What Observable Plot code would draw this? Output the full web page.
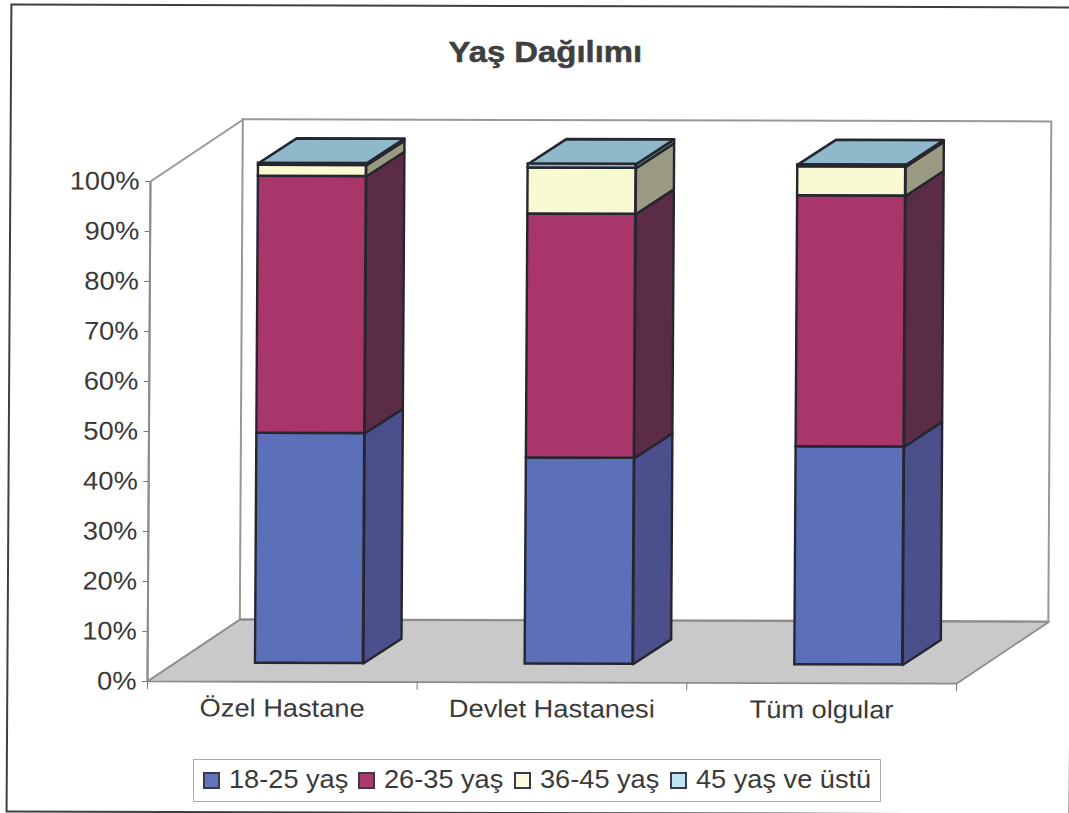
<!DOCTYPE html>
<html lang="tr">
<head>
<meta charset="utf-8">
<title>Yaş Dağılımı</title>
<script src="https://cdn.jsdelivr.net/npm/d3@7"></script>
<script src="https://cdn.jsdelivr.net/npm/@observablehq/plot@0.6"></script>
<style>
  html, body { margin: 0; padding: 0; background: #fff; }
  #page { position: relative; width: 1069px; height: 813px; overflow: hidden;
          font-family: "Liberation Sans", Arial, sans-serif; color: #3a3a3a; }
  #frame { position: absolute; left: 7.5px; top: 4.5px; width: 1060.5px; height: 804.5px;
           border: 2.4px solid #3f3f3f; pointer-events: none;
           transform: matrix(1, .0027, -.006, 1, 0, 0); transform-origin: 534px 402px; }
  #title { height: 90px; box-sizing: border-box; padding-top: 34px; padding-left: 21px; text-align: center;
           font-size: 30px; font-weight: bold; line-height: 36px; color: #3f3f3f; -webkit-text-stroke: .5px #3f3f3f; }
  #title span { display: inline-block; transform: scaleX(1.095); }
  #chart { height: 650px; }
  #chart svg { display: block; transform: matrix(1, .0027, -.006, 1, 0, 0); transform-origin: 534px 340px; }
  #legend { position: absolute; left: 193px; top: 759px; width: 688px; height: 43px; box-sizing: border-box;
            border: 1px solid #aaa; font-size: 26px; white-space: nowrap; }
  #legend i { display: inline-block; width: 13px; height: 13px; border: 2px solid #3a3a4a; margin: 2px 9px 0 0; }
  #legend span { display: inline-flex; align-items: center; position: absolute; top: 4px; }
  #legend b { font-weight: normal; display: inline-block; transform: scaleX(1.045); transform-origin: 0 50%; }
</style>
</head>
<body>
<div id="page">
  <div id="title"><span>Yaş Dağılımı</span></div>
  <div id="chart"></div>
  <div id="legend"></div>
  <div id="frame"></div>
</div>
<script>
// Hospital groups and age bands
const categories = ["Özel Hastane", "Devlet Hastanesi", "Tüm olgular"];
const ageBands = ["18-25 yaş", "26-35 yaş", "36-45 yaş", "45 yaş ve üstü"];

// Share of each age band per group, in percent
const age18to25 = [46.0, 41.2, 43.6];
const age26to35 = [51.4, 48.8, 50.2];
const age36to45 = [2.2, 9.2, 5.8];
const age45plus = [0.4, 0.8, 0.4];

// Fill shades: front face, side face, top face, legend swatch
const frontColors = ["#5b70b9", "#a9366a", "#fafad2", "#8fbccb"];
const sideColors = ["#4b4f8c", "#5a2c45", "#9a9a82", "#6f8f99"];
const topColor = "#8fb9ca";
const swatchColors = ["#6474bb", "#aa3c6c", "#fbfbdf", "#bfe3f1"];
const legendLefts = [9, 164, 320, 476];

// Oblique depth of the floor and of each bar, in axis units
const floorDepth = {x: 0.341, y: 12.4};
const barDepth = {x: 0.141, y: 5};
const barHalfWidth = 0.2;

const series = [age18to25, age26to35, age36to45, age45plus];

const segments = [];
categories.forEach((category, c) => {
  const left = c + 0.5 - barHalfWidth + (floorDepth.x - barDepth.x) / 2;
  const right = left + 2 * barHalfWidth;
  const lift = (floorDepth.y - barDepth.y) / 2;
  let base = lift;
  series.forEach((values, s) => {
    segments.push({c, s, left, right, y1: base, y2: base + values[c]});
    base += values[c];
  });
});

// Closed quadrilaterals for the side and top faces of the bars
const sidePolys = segments.flatMap((d) => {
  const id = `side-${d.c}-${d.s}`, fill = sideColors[d.s];
  return [
    {id, fill, x: d.right, y: d.y1},
    {id, fill, x: d.right + barDepth.x, y: d.y1 + barDepth.y},
    {id, fill, x: d.right + barDepth.x, y: d.y2 + barDepth.y},
    {id, fill, x: d.right, y: d.y2}
  ];
});
const topPolys = segments.filter((d) => d.s === series.length - 1).flatMap((d) => {
  const id = `top-${d.c}`;
  return [
    {id, x: d.left, y: d.y2},
    {id, x: d.right, y: d.y2},
    {id, x: d.right + barDepth.x, y: d.y2 + barDepth.y},
    {id, x: d.left + barDepth.x, y: d.y2 + barDepth.y}
  ];
});

// Floor and left wall of the chart box
const floor = [
  {x: 0, y: 0}, {x: 3, y: 0},
  {x: 3 + floorDepth.x, y: floorDepth.y}, {x: floorDepth.x, y: floorDepth.y}
];
const leftWall = [
  {x: 0, y: 0}, {x: floorDepth.x, y: floorDepth.y},
  {x: floorDepth.x, y: 100 + floorDepth.y}, {x: 0, y: 100}
];
const barStroke = "#26262f";
const wallStroke = "#989898";

const plot = Plot.plot({
  width: 1069,
  height: 650,
  marginLeft: 148.5,
  marginRight: 111.5,
  marginTop: 92,
  marginBottom: 58,
  x: {domain: [0, 3]},
  y: {domain: [0, 100]},
  style: {fontFamily: "'Liberation Sans', Arial, sans-serif", background: "transparent", overflow: "visible"},
  marks: [
    // Chart box
    Plot.rect([floorDepth], {x1: (d) => d.x, x2: (d) => 3 + d.x, y1: (d) => d.y, y2: (d) => 100 + d.y,
      fill: "white", stroke: wallStroke, strokeWidth: 2}),
    Plot.line(leftWall, {x: "x", y: "y", curve: "linear-closed", fill: "white", stroke: wallStroke, strokeWidth: 2}),
    Plot.line(floor, {x: "x", y: "y", curve: "linear-closed", fill: "#c9c9c9", stroke: "#8c8c8c", strokeWidth: 1.8}),

    // Axes
    Plot.axisY({ticks: d3.range(0, 101, 10), tickFormat: (d) => `${d}%`, tickSize: 5, tickPadding: 6,
      fontSize: 25.5, stroke: "#777", fill: "#3a3a3a", label: null}),
    Plot.axisX({ticks: [0, 1, 2, 3], tickFormat: () => "", tickSize: 8, stroke: "#777", label: null}),
    Plot.axisX({ticks: [0.5, 1.5, 2.5], tickFormat: (d) => categories[Math.floor(d)], tickSize: 0, tickPadding: 17,
      fontSize: 25, fill: "#3a3a3a", label: null}),
    Plot.ruleX([0], {stroke: "#8c8c8c", strokeWidth: 2}),

    // Bars
    Plot.line(sidePolys, {x: "x", y: "y", z: "id", fill: {value: "fill", scale: null}, curve: "linear-closed",
      stroke: barStroke, strokeWidth: 2.4, strokeLinejoin: "round"}),
    Plot.line(topPolys, {x: "x", y: "y", z: "id", fill: topColor, curve: "linear-closed",
      stroke: barStroke, strokeWidth: 2.6, strokeLinejoin: "round"}),
    Plot.rect(segments, {x1: "left", x2: "right", y1: "y1", y2: "y2",
      fill: {value: (d) => frontColors[d.s], scale: null}, stroke: barStroke, strokeWidth: 2.4})
  ]
});
document.getElementById("chart").append(plot);

// Axis labels are set slightly wide
function widen(selector, factor) {
  plot.querySelectorAll(selector).forEach((t) => {
    const length = t.getComputedTextLength();
    if (length > 0) {
      t.setAttribute("textLength", length * factor);
      t.setAttribute("lengthAdjust", "spacingAndGlyphs");
    }
  });
}
widen('[aria-label="y-axis tick label"] text', 1.07);
widen('[aria-label="x-axis tick label"] text', 1.09);

// Legend row
const legend = document.getElementById("legend");
ageBands.forEach((band, i) => {
  const item = document.createElement("span");
  item.style.left = `${legendLefts[i]}px`;
  const swatch = document.createElement("i");
  swatch.style.background = swatchColors[i];
  const label = document.createElement("b");
  label.textContent = band;
  item.append(swatch, label);
  legend.append(item);
});
</script>
</body>
</html>
